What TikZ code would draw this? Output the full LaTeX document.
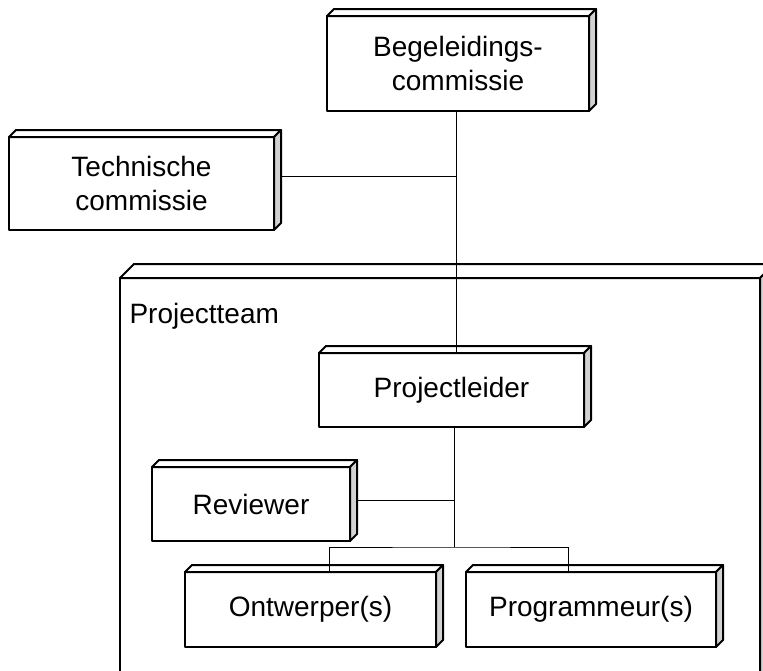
\documentclass[tikz,border=0pt]{standalone}
\usepackage{fontspec}
\setmainfont{Liberation Sans}
\usepackage{tikz}

% faces of a 3d node: top face and grey side face
\newcommand\nodefaces[2][7]{%
  \draw[boxline,fill=white] (#2.north west) -- ++(#1,-#1) -- ([shift={(#1,-#1)}]#2.north east) -- (#2.north east) -- cycle;
  \draw[boxline,fill=gray!35] (#2.north east) -- ++(#1,-#1) -- ([shift={(#1,-#1)}]#2.south east) -- (#2.south east) -- cycle;}

\tikzset{
  boxline/.style={line width=2pt, line join=round},
  unode/.style={boxline, draw, fill=white, rectangle, outer sep=0pt, inner sep=0pt,
    minimum height=75pt, align=center, font=\fontsize{28}{34}\selectfont},
  conn/.style={line width=1pt},
}

\begin{document}
\begin{tikzpicture}[x=1pt, y=-1pt]
  \clip (0,0) rectangle (763,670);

  % container
  \node[unode, fill=none, minimum width=640pt, minimum height=420pt] (team) at (440,488) {};
  \nodefaces[14]{team}
  \node[anchor=base west, font=\fontsize{28}{34}\selectfont] (teamlabel) at (126,323) {Projectteam};

  % nodes
  \node[unode, minimum width=262pt, minimum height=95pt] (beg) at (458,63.5) {Begeleidings-\\commissie};
  \nodefaces{beg}
  \node[unode, minimum width=265pt, minimum height=93pt] (tech) at (141.5,183.5) {Technische\\commissie};
  \nodefaces{tech}
  \node[unode, minimum width=265pt, minimum height=74pt] (leider) at (451.5,390) {Projectleider};
  \nodefaces{leider}
  \node[unode, minimum width=198pt, minimum height=74pt] (rev) at (251,504) {Reviewer};
  \nodefaces{rev}
  \node[unode, minimum width=251pt] (ontw) at (310.5,609.5) {Ontwerper(s)};
  \nodefaces{ontw}
  \node[unode, minimum width=250pt] (prog) at (591,609.5) {Programmeur(s)};
  \nodefaces{prog}

  % connectors
  \coordinate (tj) at (456,176);
  \coordinate (rj) at (454,500);
  \coordinate (bus) at (454,547);
  \draw[conn] (beg.south -| tj) -- (leider.north -| tj);
  \draw[conn] ([xshift=7pt]tech.east |- tj) -- (tj);
  \draw[conn] (leider.south -| bus) -- (bus);
  \draw[conn] ([xshift=7pt]rev.east |- rj) -- (rj);
  \draw[conn] ([xshift=18.5pt]ontw.north) |- (bus) -| ([xshift=-23pt]prog.north);
\end{tikzpicture}
\end{document}
